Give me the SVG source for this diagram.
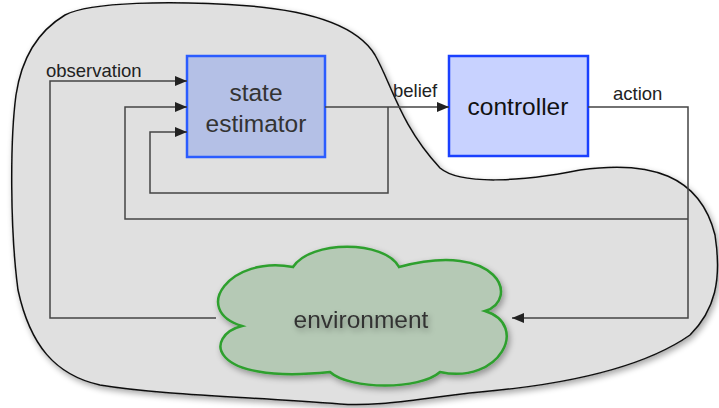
<svg xmlns="http://www.w3.org/2000/svg" width="719" height="408" viewBox="0 0 719 408">
<style>
.lbl{font-family:"Liberation Sans",Arial,sans-serif;fill:#222;font-size:18.5px}
.node{font-family:"Liberation Sans",Arial,sans-serif;fill:#333;text-anchor:middle;font-size:24.5px}
.wire{fill:none;stroke:#444;stroke-width:1.5}
</style>
<defs>
<marker id="ah" viewBox="0 0 12 10" refX="12" refY="5" markerWidth="12" markerHeight="10" markerUnits="userSpaceOnUse" orient="auto">
<path d="M0,0 L12,5 L0,10 Z" fill="#222"/>
</marker>
<filter id="sh" x="-10%" y="-10%" width="130%" height="130%">
<feGaussianBlur in="SourceAlpha" stdDeviation="3"/>
<feOffset dx="2" dy="3" result="b"/>
<feComponentTransfer><feFuncA type="linear" slope="0.35"/></feComponentTransfer>
<feMerge><feMergeNode/><feMergeNode in="SourceGraphic"/></feMerge>
</filter>
</defs>
<g id="world">
<path filter="url(#sh)" d="M65,15 C90,2 170,0 250,6 C320,12 360,30 375,55 C392,85 400,125 440,168 C460,185 520,182 580,170 C650,160 700,175 715,235 C722,280 715,310 690,335 C640,370 560,385 480,392 C420,398 380,407 340,404 C250,397 160,395 100,385 C55,375 30,345 18,290 C10,230 10,140 16,95 C22,55 40,30 65,15 Z" fill="#e0e0e0" stroke="#111" stroke-width="1.5"/>
</g>
<g id="state-estimator">
<rect x="187" y="56" width="138" height="101" fill="#b4c0e6" stroke="#2b5cff" stroke-width="2.5"/>
<text class="node" x="256" y="101">state</text>
<text class="node" x="256" y="132">estimator</text>
</g>
<g id="controller">
<rect x="449" y="56" width="139" height="100" fill="#c8d2ff" stroke="#1a40ff" stroke-width="2.5"/>
<text class="node" x="518" y="115" style="fill:#111">controller</text>
</g>
<g id="environment">
<path filter="url(#sh)" d="M242,326 C205,335 205,385 330,372 C350,390 420,390 440,372 C500,385 530,325 485,311 C520,300 500,240 399,267 C385,240 310,240 293,267 C230,255 190,310 242,326 Z" fill="#b5c9b5" stroke="#2ea02e" stroke-width="2.5"/>
<text class="node" x="361" y="328" filter="url(#sh)">environment</text>
</g>
<g id="connectors">
<path class="wire" d="M325,107 L449,107" marker-end="url(#ah)"/>
<path class="wire" d="M588,107 L688,107 L688,318 L512,318" marker-end="url(#ah)"/>
<path class="wire" d="M216,318 L50,318 L50,81 L187,81" marker-end="url(#ah)"/>
<path class="wire" d="M688,219 L125,219 L125,107 L187,107" marker-end="url(#ah)"/>
<path class="wire" d="M388,107 L388,193 L150,193 L150,132 L187,132" marker-end="url(#ah)"/>
<text class="lbl" x="46" y="77">observation</text>
<text class="lbl" x="393" y="97">belief</text>
<text class="lbl" x="613" y="100">action</text>
</g>
</svg>
